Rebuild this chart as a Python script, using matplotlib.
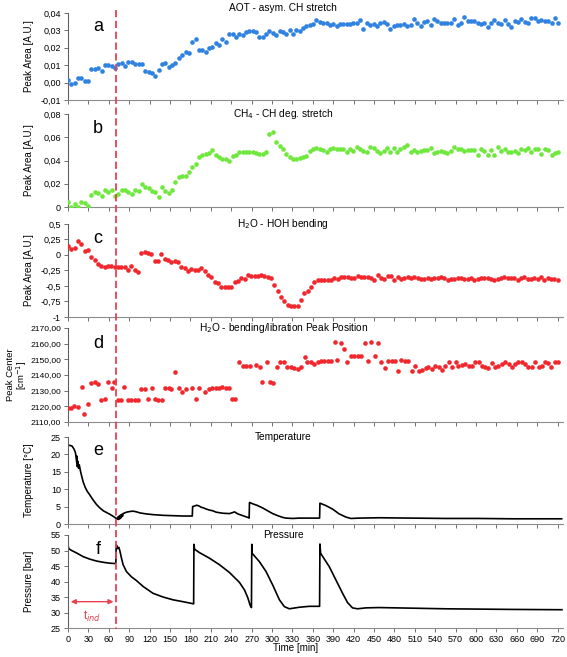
import numpy as np
import matplotlib.pyplot as plt
from matplotlib.lines import Line2D
from matplotlib import transforms

plt.rcParams['font.family'] = ['Liberation Sans', 'DejaVu Sans']

# a: AOT asym CH stretch, points every ~4.9 min
a_vals = [0.0015, -0.0008, 0.0000, 0.0025, 0.0029, 0.0011, 0.0010, 0.0076, 0.0078, 0.0086,
          0.0069, 0.0099, 0.0099, 0.0097, 0.0084, 0.0109, 0.0115, 0.0094, 0.0116, 0.0118,
          0.0107, 0.0107, 0.0105, 0.0065, 0.0059, 0.0057, 0.0038, 0.0071, 0.0107, 0.0111,
          0.0090, 0.0101, 0.0115, 0.0139, 0.0158, 0.0174, 0.0172, 0.0235, 0.0250, 0.0189,
          0.0189, 0.0176, 0.0200, 0.0204, 0.0227, 0.0214, 0.0250, 0.0235, 0.0277, 0.0277,
          0.0263, 0.0282, 0.0275, 0.0288, 0.0294, 0.0298, 0.0288, 0.0261, 0.0263, 0.0277,
          0.0296, 0.0286, 0.0273, 0.0298, 0.0290,
          0.0282, 0.0305, 0.0282, 0.0305, 0.0298, 0.0315, 0.0326, 0.0330, 0.0334, 0.0359,
          0.0349, 0.0344, 0.0345, 0.0330, 0.0338, 0.0324, 0.0336, 0.0334, 0.0334, 0.0334,
          0.0340, 0.0340, 0.0361, 0.0307, 0.0342, 0.0332, 0.0338, 0.0323, 0.0340, 0.0351,
          0.0334, 0.0309, 0.0324, 0.0330, 0.0330, 0.0336, 0.0323, 0.0332, 0.0363, 0.0342,
          0.0324, 0.0347, 0.0353, 0.0332, 0.0365, 0.0353, 0.0340, 0.0345, 0.0342, 0.0340,
          0.0365, 0.0332, 0.0340, 0.0378, 0.0353, 0.0353, 0.0353, 0.0345, 0.0338, 0.0342,
          0.0317, 0.0340, 0.0361, 0.0344, 0.0338, 0.0361, 0.0338, 0.0317, 0.0355, 0.0351,
          0.0365, 0.0349, 0.0342, 0.0374, 0.0372, 0.0353, 0.0357, 0.0355, 0.0355, 0.0342,
          0.0372, 0.0345]

# b: CH4 CH deg. stretch
b_vals = [0.0043, 0.0000, 0.0023, 0.0000, 0.0040, 0.0035, 0.0012, 0.0101, 0.0127, 0.0121,
          0.0098, 0.0144, 0.0133, 0.0144, 0.0098, 0.0116, 0.0150, 0.0144, 0.0130, 0.0116,
          0.0150, 0.0139, 0.0202, 0.0168, 0.0162, 0.0139, 0.0133, 0.0087, 0.0168, 0.0139,
          0.0121, 0.0144, 0.0219, 0.0254, 0.0266, 0.0269, 0.0303, 0.0347, 0.0367, 0.0430,
          0.0448, 0.0453, 0.0462, 0.0491, 0.0445, 0.0427, 0.0416, 0.0413, 0.0396, 0.0439,
          0.0451, 0.0471, 0.0474, 0.0471, 0.0477, 0.0471, 0.0468, 0.0453, 0.0456, 0.0471,
          0.0627, 0.0644, 0.0560, 0.0529,
          0.0497, 0.0453, 0.0427, 0.0410, 0.0413, 0.0419, 0.0427, 0.0442, 0.0485, 0.0500,
          0.0505, 0.0497, 0.0491, 0.0471, 0.0497, 0.0508, 0.0497, 0.0497, 0.0503, 0.0477,
          0.0497, 0.0479, 0.0520, 0.0503, 0.0485, 0.0477, 0.0514, 0.0511, 0.0485, 0.0465,
          0.0485, 0.0511, 0.0477, 0.0505, 0.0477, 0.0500, 0.0514, 0.0534, 0.0477, 0.0491,
          0.0471, 0.0485, 0.0491, 0.0491, 0.0511, 0.0468, 0.0477, 0.0482, 0.0477, 0.0468,
          0.0485, 0.0514, 0.0503, 0.0497, 0.0485, 0.0491, 0.0494, 0.0491, 0.0448, 0.0497,
          0.0485, 0.0448, 0.0491, 0.0448, 0.0520, 0.0485, 0.0503, 0.0474, 0.0471, 0.0485,
          0.0462, 0.0500, 0.0491, 0.0505, 0.0474, 0.0497, 0.0503, 0.0459, 0.0500, 0.0491,
          0.0451, 0.0468, 0.0474]

# c: H2O HOH bending
c_vals = [0.145, 0.10, 0.12, 0.22, 0.18, 0.06, 0.08, -0.03, -0.08, -0.145,
          -0.18, -0.19, -0.18, -0.18, -0.20, -0.19, -0.19, -0.19, -0.25, -0.17,
          -0.24, -0.27,
          0.03, 0.05, 0.03, 0.02, -0.09, -0.09, 0.02, -0.07, -0.08, -0.11,
          -0.09, -0.12, -0.20, -0.21, -0.26, -0.23, -0.25, -0.25, -0.21, -0.26,
          -0.32, -0.36, -0.43, -0.45, -0.51, -0.52, -0.52, -0.51, -0.43, -0.42,
          -0.37, -0.38, -0.33, -0.34, -0.34, -0.34, -0.32, -0.34, -0.35, -0.37,
          -0.48, -0.58, -0.68, -0.75, -0.80,
          -0.82, -0.83, -0.82, -0.72, -0.61, -0.58, -0.51, -0.43, -0.41, -0.40,
          -0.40, -0.40, -0.40, -0.375, -0.39, -0.35, -0.36, -0.36, -0.37, -0.375,
          -0.34, -0.36, -0.36, -0.35, -0.375, -0.40, -0.33, -0.37, -0.38, -0.34,
          -0.34, -0.40, -0.36, -0.39, -0.37, -0.35, -0.37, -0.36, -0.375, -0.38,
          -0.39, -0.375, -0.38, -0.37, -0.375, -0.35, -0.375, -0.40, -0.39, -0.38,
          -0.375, -0.375, -0.38, -0.39, -0.375, -0.40, -0.38, -0.375, -0.375, -0.37,
          -0.39, -0.40, -0.38, -0.375, -0.36, -0.37, -0.365, -0.375, -0.40, -0.37,
          -0.36, -0.38, -0.39, -0.37, -0.385, -0.35, -0.41, -0.375, -0.39, -0.39,
          -0.40]

# d: H2O bending/libration peak position (irregular times)
d_time = [0, 4, 9, 14, 20, 24, 29, 34, 39, 44, 49, 54, 59, 64, 68, 73, 78, 83, 88, 93,
          98, 103, 108, 113, 118, 123, 128, 133, 138, 143, 148, 152, 158, 163, 168, 173,
          183, 188, 193, 202, 207, 212, 217, 222, 227, 232, 237, 241, 246, 252, 257, 262,
          267, 277, 282, 286, 292, 297, 302, 307, 312, 317, 322,
          328, 333, 338, 343, 348, 352, 357, 362, 367, 372, 377, 382, 387, 392, 396, 401,
          406, 411, 416, 421, 426, 431, 437, 441, 446, 451, 456, 461, 466, 471, 476, 481,
          485, 490, 495, 500, 506, 511, 516, 521, 526, 530, 535, 540, 545, 550, 555, 560,
          565, 570, 574, 579, 584, 589, 594, 599, 604, 609, 613, 618, 623, 628, 633, 638,
          643, 648, 653, 657, 662, 667, 672, 677, 682, 687, 692, 697, 701, 706, 711, 716, 721]
d_vals = [2119.1, 2119.1, 2120.0, 2119.6, 2132.3, 2115.3, 2121.7, 2134.9, 2135.3, 2134.5,
          2124.3, 2124.7, 2135.3, 2131.5, 2135.7, 2124.3, 2124.3, 2132.3, 2124.3, 2124.3,
          2124.3, 2124.3, 2131.1, 2131.1, 2124.7, 2131.9, 2124.7, 2124.3, 2124.3, 2131.9,
          2131.5, 2131.1, 2141.7, 2131.5, 2128.9, 2131.1, 2131.9, 2124.7, 2131.9, 2128.9,
          2131.1, 2131.9, 2131.9, 2131.5, 2132.3, 2131.5, 2131.9, 2124.7, 2124.7, 2148.1,
          2145.5, 2145.5, 2146.0, 2146.4, 2145.1, 2135.3, 2148.5, 2135.3, 2134.9, 2145.1,
          2148.5, 2148.5, 2145.1,
          2145.1, 2144.5, 2143.8, 2145.1, 2151.3, 2148.3, 2148.3, 2147.2, 2148.1, 2149.1,
          2148.7, 2148.7, 2149.1, 2160.9, 2149.4, 2160.4, 2156.6, 2148.3, 2151.9, 2151.9,
          2151.9, 2151.9, 2160.4, 2149.1, 2160.9, 2151.9, 2160.4, 2148.3, 2144.5, 2149.1,
          2149.1, 2149.1, 2142.3, 2149.8, 2148.7, 2148.7, 2142.8, 2145.5, 2142.3, 2143.0,
          2144.5, 2144.9, 2144.0, 2145.5, 2145.1, 2143.0, 2145.5, 2148.3, 2144.9, 2148.3,
          2145.5, 2146.2, 2147.2, 2145.5, 2146.0, 2148.3, 2148.3, 2145.5, 2145.1, 2144.5,
          2147.7, 2145.1, 2145.5, 2147.2, 2148.3, 2147.2, 2145.1, 2147.2, 2148.3, 2148.3,
          2147.2, 2145.1, 2145.1, 2148.3, 2145.1, 2145.5, 2148.3, 2147.7, 2144.9, 2148.3,
          2148.3]

# e: temperature trace
temp_t = [0, 3, 6, 9, 11, 12, 13, 13.2, 13.7, 14.7, 15.6, 16.6, 18.6, 20.5, 22.5, 25.4,
          28.3, 32.3, 37, 42, 47, 52, 56.7, 61.6, 66.5, 70.4, 72.3, 73.3, 74.3, 75.3,
          76.2, 77.2, 78.2, 79.2, 80.2, 81, 83.6, 86, 91, 95.8, 100.7, 105.6, 115.3,
          125, 139.8, 154.4, 169, 182.8, 183.3, 186.2, 189.6, 193.5, 196, 198.4, 203.3,
          208.2, 213, 218, 227.8, 237.5, 242.4, 244.9, 249.8, 257.1, 264.4, 266.4, 266.9,
          271.8, 279, 286.4, 293.7, 301, 308.4, 315.7, 320.7, 330.5, 340, 359.8, 370,
          370.5, 379.3, 389, 398.9, 408.7, 416, 428.2, 457.5, 506.4, 555.3, 604, 653, 726]
temp_v = [22.6, 22.6, 22.4, 21.5, 20.5, 19.0, 17.5, 19.5, 16.5, 18.0, 16.0, 17.0, 15.0,
          13.5, 12.0, 10.5, 9.4, 8.3, 6.9, 5.6, 4.6, 3.8, 3.3, 2.8, 2.2, 1.7, 1.4, 2.0,
          1.3, 2.3, 1.5, 2.6, 1.8, 2.8, 2.2, 3.0, 3.2, 3.4, 3.6, 3.7, 3.5, 3.2, 2.9, 2.7,
          2.5, 2.4, 2.3, 2.3, 5.0, 5.2, 5.4, 5.1, 4.8, 4.7, 4.3, 4.0, 3.8, 3.4, 3.1, 3.0,
          3.3, 3.5, 2.9, 2.4, 1.9, 1.7, 6.2, 5.8, 5.3, 4.6, 3.8, 3.0, 2.4, 1.9, 1.7, 1.6,
          1.7, 1.7, 1.7, 6.0, 5.3, 4.3, 2.9, 2.0, 1.6, 1.7, 1.8, 1.7, 1.6, 1.6, 1.5, 1.5]

# f: pressure trace
pres_t = [0, 1, 5.4, 12.7, 22.5, 32.3, 42, 51.8, 61.6, 69, 70.4, 70.9, 72.3, 73.3, 74.8,
          76.2, 78.7, 81.1, 86, 93.4, 100.7, 110.5, 125, 139.8, 154.4, 169, 184.8, 185.2,
          186.2, 193.5, 208.2, 222.9, 237.5, 252.2, 259.5, 264.4, 267.9, 269.8, 270.3,
          270.8, 281.5, 291.3, 301, 310.9, 318.2, 325.5, 340.2, 354.9, 370, 370.5, 371.5,
          384.2, 394, 403.8, 411.1, 418.4, 425.8, 438, 457.5, 506.4, 555.3, 604.2, 653, 726.4]
pres_v = [52.0, 50.6, 50.0, 49.2, 48.0, 47.2, 46.6, 46.2, 45.9, 45.8, 46.0, 51.8, 51.4,
          50.6, 51.0, 50.0, 47.5, 45.4, 43.2, 41.5, 40.3, 38.4, 36.2, 35.0, 34.1, 33.5,
          32.8, 52.0, 50.4, 49.3, 47.5, 45.4, 42.9, 39.7, 37.3, 34.8, 32.3, 31.6, 52.0,
          49.1, 46.4, 43.2, 38.9, 34.1, 31.9, 31.2, 31.7, 32.0, 32.0, 52.1, 49.1, 44.8,
          40.5, 36.2, 33.2, 31.5, 31.2, 31.5, 31.6, 31.4, 31.2, 31.1, 31.0, 30.9]

titles = ['AOT - asym. CH stretch', 'CH$_4$ - CH deg. stretch', 'H$_2$O - HOH bending',
          'H$_2$O - bending/libration Peak Position', 'Temperature', 'Pressure']
letters = ['a', 'b', 'c', 'd', 'e', 'f']
ylabels = ['Peak Area [A.U.]', 'Peak Area [A.U.]', 'Peak Area [A.U.]',
           'Peak Center\n[cm$^{-1}$]', 'Temperature [°C]', 'Pressure [bar]']
yticks = [[-0.01, 0, 0.01, 0.02, 0.03, 0.04],
          [0, 0.02, 0.04, 0.06, 0.08],
          [-1, -0.75, -0.5, -0.25, 0, 0.25, 0.5],
          [2110, 2120, 2130, 2140, 2150, 2160, 2170],
          [0, 5, 10, 15, 20, 25],
          [25, 30, 35, 40, 45, 50, 55]]
ytlabels = [['-0,01', '0,00', '0,01', '0,02', '0,03', '0,04'],
            ['0', '0,02', '0,04', '0,06', '0,08'],
            ['-1', '-0,75', '-0,5', '-0,25', '0', '0,25', '0,5'],
            ['2110,00', '2120,00', '2130,00', '2140,00', '2150,00', '2160,00', '2170,00'],
            ['0', '5', '10', '15', '20', '25'],
            ['25', '30', '35', '40', '45', '50', '55']]
xticks = list(range(0, 721, 30))
t_ind = 71

fig = plt.figure(figsize=(5.67, 6.57), dpi=100)
boxes = [(0.8478, 0.1324), (0.6849, 0.1416), (0.5175, 0.1416),
         (0.3577, 0.1431), (0.2024, 0.1324), (0.0441, 0.1416)]
axes = [fig.add_axes([0.1199, b, 0.8731, h]) for b, h in boxes]

blue = '#2f82e0'
green = '#6ee83c'
red = '#f0282d'

axes[0].scatter(np.linspace(0, 721, len(a_vals)), a_vals, s=11, color=blue, lw=0, zorder=3)
axes[1].scatter(np.linspace(0, 721, len(b_vals)), b_vals, s=11, color=green, lw=0, zorder=3)
axes[2].scatter(np.linspace(0, 720, len(c_vals)), c_vals, s=11, color=red, lw=0, zorder=3)
axes[3].scatter(d_time, d_vals, s=11, color=red, lw=0, zorder=3)
axes[4].plot(temp_t, temp_v, color='black', lw=1.2)
axes[5].plot(pres_t, pres_v, color='black', lw=1.2)

for i, ax in enumerate(axes):
    ax.set_xlim(0, 728)
    ax.set_ylim(yticks[i][0], yticks[i][-1])
    ax.set_yticks(yticks[i], ytlabels[i])
    ax.set_xticks(xticks)
    for s in ['top', 'right']:
        ax.spines[s].set_visible(False)
    ax.spines['left'].set_color('#606060')
    ax.spines['bottom'].set_color('#8c8c8c')
    ax.spines['left'].set_linewidth(0.8)
    ax.spines['bottom'].set_linewidth(0.8)
    ax.tick_params(axis='both', length=3, width=0.7, color='#707070', labelsize=6.5, pad=2)
    if i < 5:
        ax.tick_params(axis='x', labelbottom=False)
    if i == 3:
        ax.tick_params(axis='y', labelsize=6.1)
        ax.set_ylabel(ylabels[i], fontsize=6.8, linespacing=1.0)
        ax.yaxis.set_label_coords(-0.078, 0.5)
    else:
        ax.set_ylabel(ylabels[i], fontsize=7)
        ax.yaxis.set_label_coords(-0.068, 0.5)
    if i == 0:
        ax.text(0.435, 1.0, titles[i], transform=ax.transAxes, ha='center', va='bottom', fontsize=7.3)
    else:
        ax.text(0.435, 1.0, titles[i], transform=ax.transAxes, ha='center', va='center', fontsize=7.3)
    ax.text(0.061, 0.84, letters[i], transform=ax.transAxes, ha='center', va='center', fontsize=13)
    ax.patch.set_alpha(0)

axes[5].set_xlabel('Time [min]', fontsize=7)
axes[5].xaxis.set_label_coords(0.46, -0.16)

# t_ind arrow
axes[5].annotate('', xy=(0, 33.5), xytext=(t_ind, 33.5),
                 arrowprops=dict(arrowstyle='<|-|>', color='#e8404e', lw=1.0, mutation_scale=7))
axes[5].text(t_ind / 2, 28.8, 't$_{ind}$', color='#e8404e', ha='center', va='center', fontsize=8.5)

# dashed induction line through all panels
trans = transforms.blended_transform_factory(axes[5].transData, fig.transFigure)
fig.add_artist(Line2D([t_ind, t_ind], [0.985, 0.042], transform=trans, color='#ec4050',
                      lw=1.3, ls=(0, (4, 2))))

fig.savefig('out.png', dpi=100)
